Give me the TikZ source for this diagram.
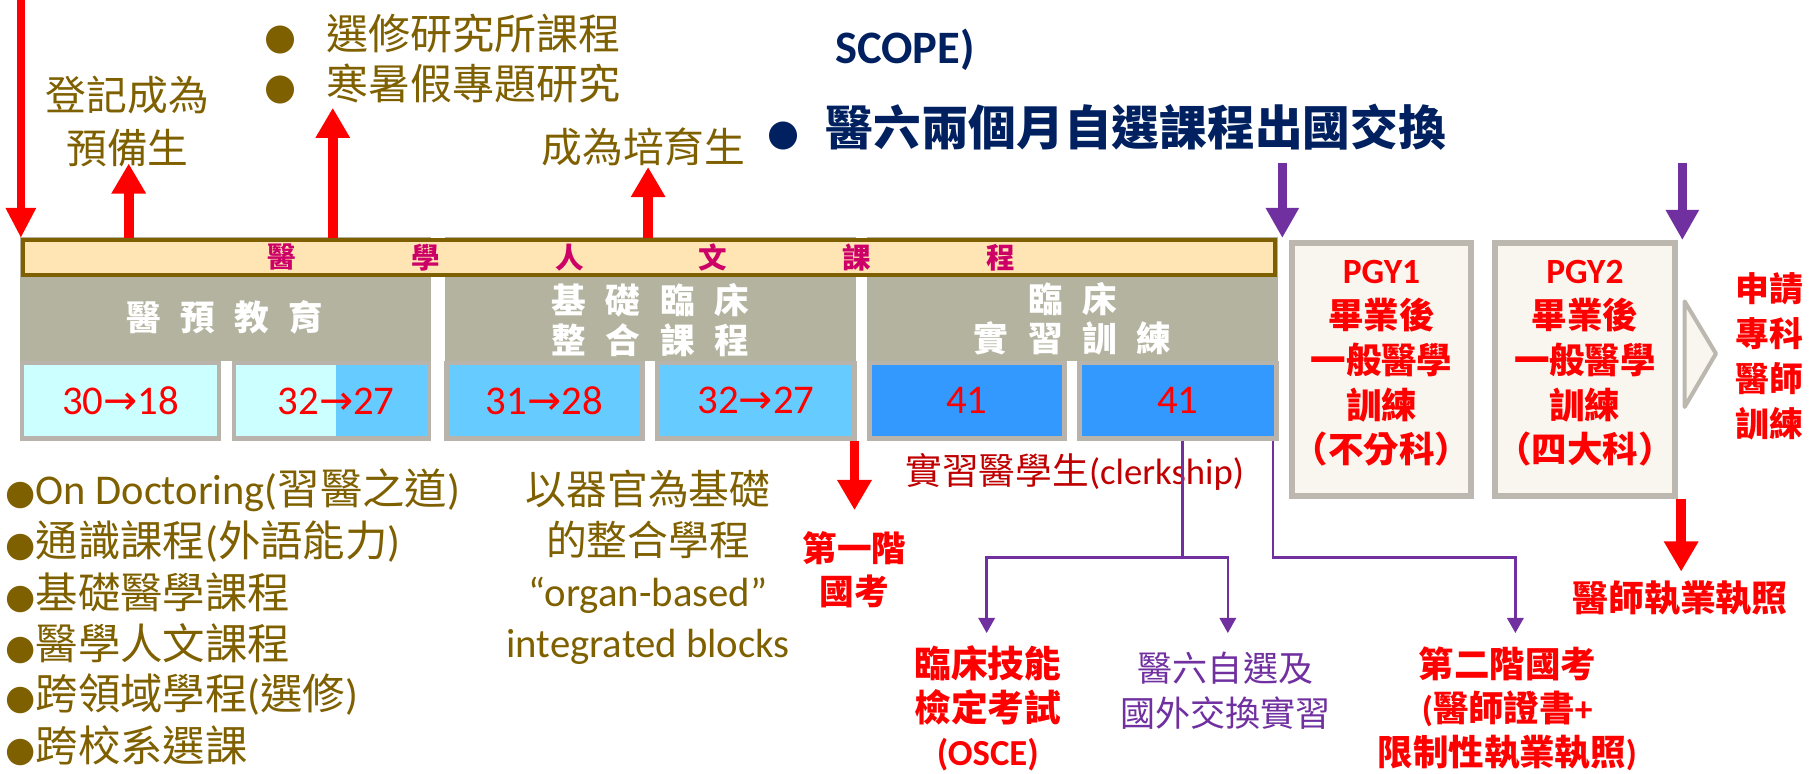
\documentclass[tikz,border=0pt]{standalone}
\usepackage{fontspec}
\setmainfont{Carlito}
\newfontfamily\cjk{Noto Sans CJK TC}
\newfontfamily\symf{DejaVu Sans}
\usepackage{xcolor}
\usetikzlibrary{arrows.meta,positioning,fit}
\definecolor{brownt}{RGB}{127,96,0}
\definecolor{navyt}{RGB}{0,32,96}
\definecolor{magt}{RGB}{204,0,102}
\definecolor{purpt}{RGB}{112,48,160}
\definecolor{redt}{RGB}{255,0,0}
\definecolor{darkredt}{RGB}{192,0,0}
\definecolor{barfill}{RGB}{255,229,180}
\definecolor{barline}{RGB}{127,96,0}
\definecolor{hdrgray}{RGB}{179,179,160}
\definecolor{framegray}{RGB}{184,180,172}
\definecolor{lightcyan}{RGB}{204,255,255}
\definecolor{skyblue}{RGB}{102,204,255}
\definecolor{deepblue}{RGB}{51,153,255}
\definecolor{pgyfill}{RGB}{249,246,239}
\definecolor{pgyline}{RGB}{188,184,176}
\newcommand{\setfs}[2]{\fontsize{#1}{#2}\selectfont}
\newcommand{\zh}[1]{{\cjk #1}}
\newcommand{\bul}[1]{{\symf\fontsize{#1}{#1}\selectfont ●}}
\newcommand{\toarr}{{\symf →}}
\newcommand{\hgap}{\hspace{4.8pt}}
\tikzset{
  hdr/.style={fill=hdrgray, inner sep=0},
  humbar/.style={fill=barfill, draw=barline, line width=1pt, inner sep=0},
  cell/.style={draw=framegray, line width=1.1pt, inner sep=0},
  pgybox/.style={fill=pgyfill, draw=pgyline, line width=1.4pt, inner sep=0},
  chev/.style={fill=pgyfill, draw=pgyline, line width=1pt, line join=round},
  bartext/.style={text=magt, font=\cjk\bfseries\setfs{7pt}{8pt}},
  hdrtext/.style={text=white, font=\cjk\bfseries\setfs{8.5pt}{9.7pt}, align=center},
  numtext/.style={text=redt, font=\setfs{10pt}{12pt}},
  pgytext/.style={text=redt, font=\bfseries\setfs{8.7pt}{11pt}, align=center},
  browntext/.style={text=brownt, font=\cjk\setfs{10pt}{13pt}, align=center},
  listtext/.style={text=brownt, font=\setfs{10.4pt}{12pt}, anchor=west, inner sep=0},
  redbold/.style={text=redt, font=\cjk\bfseries\setfs{9pt}{11pt}, align=center},
  redthin/.style={draw=redt, line width=1.9pt, -{Triangle[width=7pt,length=7.4pt]}},
  redarrow/.style={draw=redt, line width=2.4pt, -{Triangle[width=8pt,length=7.4pt]}},
  purparrow/.style={draw=purpt, line width=2.2pt, -{Triangle[width=7.7pt,length=7.4pt]}},
  plink/.style={draw=purpt, line width=0.6pt},
  plarrow/.style={plink, -{Triangle[width=4pt,length=3.7pt]}}
}

\begin{document}
\begin{tikzpicture}[x=0.01cm, y=-0.01cm]
\useasboundingbox (0,0) rectangle (1568,667);

\node[hdr, fit={(17,204) (372,311)}] (blk1) {};
\node[hdr, fit={(384,204) (738,311)}] (blk2) {};
\node[hdr, fit={(748,204) (1102,311)}] (blk3) {};
\node[humbar, fit={(20,207) (1100,237)}] (humbar) {};
\foreach \ch [count=\i] in {醫,學,人,文,課,程}
  \node[bartext] (hum\i) at ({243+124*(\i-1)},222) {\ch};

\node[hdrtext] (pre) at (194,274) {醫\hgap 預\hgap 教\hgap 育};
\node[hdrtext] (basic) at (561,276) {基\hgap 礎\hgap 臨\hgap 床\\整\hgap 合\hgap 課\hgap 程};
\node[hdrtext] (clin) at (925,275) {臨\hgap 床\\實\hgap 習\hgap 訓\hgap 練};

\node[cell, fill=lightcyan, fit={(19,313) (189,378)}] (c1) {};
\node[cell, fill=lightcyan, fit={(202,313) (370,378)},
  path picture={\fill[skyblue] ([xshift=0.04cm]path picture bounding box.north) rectangle (path picture bounding box.south east);}] (c2) {};
\node[cell, fill=skyblue, fit={(385,313) (554,378)}] (c3) {};
\node[cell, fill=skyblue, fit={(567,313) (737,378)}] (c4) {};
\node[cell, fill=deepblue, fit={(750,313) (918,378)}] (c5) {};
\node[cell, fill=deepblue, fit={(931,313) (1101,378)}] (c6) {};
\node[numtext] (n1) at (c1) {30\toarr 18};
\node[numtext] (n2) at (290,346) {32\toarr 27};
\node[numtext] (n3) at (c3) {31\toarr 28};
\node[numtext] (n4) at (c4) {32\toarr 27};
\node[numtext] (n5) at (c5) {41};
\node[numtext] (n6) at (c6) {41};

\node[pgybox, fit={(1114.5,209.5) (1268.5,427.5)}] (pgy1) {};
\node[pgybox, fit={(1289.5,209.5) (1444.5,427.5)}] (pgy2) {};
\node[pgytext] (pgy1t) at ([yshift=0.05cm]pgy1.center) {PGY1\\\zh{畢業後}\\\zh{一般醫學}\\\zh{訓練}\\\zh{（不分科）}};
\node[pgytext] (pgy2t) at ([yshift=0.05cm]pgy2.center) {PGY2\\\zh{畢業後}\\\zh{一般醫學}\\\zh{訓練}\\\zh{（四大科）}};
\draw[chev] (1453,260) -- (1480,305) -- (1453,351) -- cycle;
\node[pgytext, font=\cjk\bfseries\setfs{8.3pt}{11pt}] (spec) at (1526,307.5) {申請\\專科\\醫師\\訓練};

\node[browntext] (prep) at (110,105) {登記成為\\預備生};
\node[browntext, anchor=west, inner sep=0, font=\cjk\setfs{10.3pt}{12pt}] (opt1) at (227,29) {\bul{9pt}\hspace{7.4pt}選修研究所課程};
\node[browntext, anchor=west, inner sep=0, font=\cjk\setfs{10.3pt}{12pt}] (opt2) at (227,72) {\bul{9pt}\hspace{7.4pt}寒暑假專題研究};
\node[browntext] (breed) at (555,127) {成為培育生};

\node[text=navyt, font=\bfseries\setfs{11.4pt}{13pt}, anchor=west] (scope) at (708,43) {SCOPE)};
\node[text=navyt, font=\cjk\bfseries\setfs{11.7pt}{14pt}, anchor=west, inner sep=0] (exch) at (661,110) {\bul{9pt}\hspace{6.5pt}醫六兩個月自選課程出國交換};

\foreach \entry [count=\i] in {On Doctoring(\zh{習醫之道}), \zh{通識課程}(\zh{外語能力}), \zh{基礎醫學課程}, \zh{醫學人文課程}, \zh{跨領域學程}(\zh{選修}), \zh{跨校系選課}}
  \node[listtext] (item\i) at (4,{423+44*(\i-1)}) {\bul{8.5pt}\entry};
\node[browntext, font=\setfs{10pt}{12.5pt}] (organ) at (559,489) {\zh{以器官為基礎}\\\zh{的整合學程}\\“organ-based”\\integrated blocks};

\node[redbold, font=\cjk\bfseries\setfs{8.5pt}{10.5pt}] (exam1) at (737,491.5) {第一階\\國考};
\node[text=darkredt, font=\setfs{9pt}{11pt}] (clerk) at (927,407) {\zh{實習醫學生}(clerkship)};
\node[redbold, font=\cjk\bfseries\setfs{9pt}{10.8pt}] (osce) at (852,611) {臨床技能\\檢定考試\\\rmfamily(OSCE)};
\node[text=purpt, font=\cjk\setfs{8.6pt}{11pt}, align=center] (abroad) at (1057,595.5) {醫六自選及\\國外交換實習};
\node[redbold, font=\cjk\bfseries\setfs{8.7pt}{10.8pt}] (exam2) at (1300,611) {第二階國考\\{\rmfamily(}醫師證書{\rmfamily+}\\限制性執業執照{\rmfamily)}};
\node[redbold, font=\cjk\bfseries\setfs{8.8pt}{11pt}] (lic) at (1449,516) {醫師執業執照};

\coordinate (s0) at (18,0);
\coordinate (u1) at (111,141);
\coordinate (u2) at (287,93);
\coordinate (u3) at (559,144);
\coordinate (p1) at (1106,141);
\coordinate (p2) at (1451,141);
\coordinate (d2) at (737,440);
\coordinate (d3) at (1450,493);
\draw[redthin] (s0) -- (s0 |- humbar.north);
\draw[redarrow] (u1 |- humbar.north) -- (u1);
\draw[redarrow] (u2 |- humbar.north) -- (u2);
\draw[redarrow] (u3 |- humbar.north) -- (u3);
\draw[purparrow] (p1) -- (p1 |- humbar.north);
\draw[purparrow] (p2) -- (p2 |- pgy2.north);
\draw[redarrow] (d2 |- c4.south) -- (d2);
\draw[redarrow] (d3 |- pgy2.south) -- (d3);

\coordinate (j1) at (1020,481);
\coordinate (j2) at (1098,481);
\coordinate (e1) at (851,546);
\coordinate (e2) at (1059,546);
\coordinate (e3) at (1307,546);
\draw[plarrow] (j1 |- c6.south) -- (j1) -| (e1);
\draw[plarrow] (j1) -| (e2);
\draw[plarrow] (j2 |- c6.south) -- (j2) -| (e3);
\end{tikzpicture}
\end{document}
